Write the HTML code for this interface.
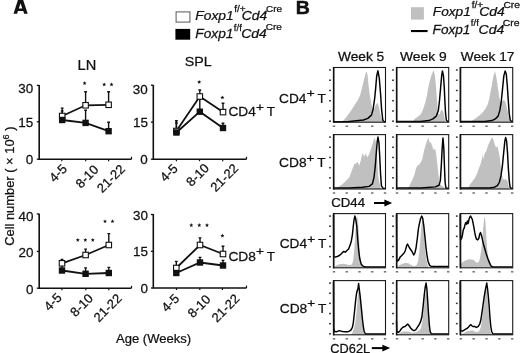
<!DOCTYPE html>
<html><head><meta charset="utf-8"><style>
html,body{margin:0;padding:0;background:#fff;overflow:hidden;}
svg{display:block;filter:grayscale(1);}
text{font-family:"Liberation Sans", sans-serif;fill:#111;stroke:#111;stroke-width:0.25px;}
</style></head><body>
<svg width="520" height="353" viewBox="0 0 520 353">
<rect width="520" height="353" fill="#fff"/>
<path d="M13.5 13.7L18.1 -0.5H23L27.7 13.7H24.1L23.3 11.1H17.9L17.1 13.7ZM18.8 8.5H22.3L20.55 3.3Z" fill="#111" fill-rule="evenodd"/>
<text transform="translate(295.68 13.8) scale(1.016 1)" style="font-size:19.2px;font-weight:bold;stroke-width:0.5px">B</text>
<rect x="176.1" y="11.9" width="13.8" height="10.2" fill="#fff" stroke="#666" stroke-width="1.1"/>
<rect x="175.4" y="28.9" width="14.8" height="10.8" fill="#000"/>
<text transform="translate(195.28 20.4) scale(1.035 1)" style="font-size:13.38px;font-style:italic">Foxp1</text>
<text transform="translate(234.15 12.4) scale(1.056 1)" style="font-size:9.52px">f/+</text>
<text transform="translate(241.64 20.4) scale(1.050 1)" style="font-size:13.24px;font-style:italic">Cd4</text>
<text transform="translate(266.11 11.8) scale(1.112 1)" style="font-size:8.89px">Cre</text>
<text transform="translate(195.29 38.3) scale(1.026 1)" style="font-size:13.38px;font-style:italic">Foxp1</text>
<text transform="translate(233.86 30.6) scale(0.985 1)" style="font-size:9.66px">f/f</text>
<text transform="translate(241.13 38.3) scale(1.055 1)" style="font-size:13.24px;font-style:italic">Cd4</text>
<text transform="translate(265.7 30.3) scale(1.092 1)" style="font-size:9.18px">Cre</text>
<rect x="411" y="7.2" width="12.9" height="12.4" fill="#c0c0c0"/>
<rect x="411" y="30" width="16.6" height="2.1" fill="#000"/>
<text transform="translate(432.79 15.9) scale(1.023 1)" style="font-size:13.38px;font-style:italic">Foxp1</text>
<text transform="translate(471.75 7.9) scale(1.175 1)" style="font-size:8.55px">f/+</text>
<text transform="translate(479.13 15.9) scale(1.055 1)" style="font-size:13.24px;font-style:italic">Cd4</text>
<text transform="translate(503.39 7.7) scale(1.175 1)" style="font-size:8.75px">Cre</text>
<text transform="translate(432.59 34) scale(1.018 1)" style="font-size:13.38px;font-style:italic">Foxp1</text>
<text transform="translate(470.86 26.2) scale(1.127 1)" style="font-size:8.55px">f/f</text>
<text transform="translate(478.53 34) scale(1.059 1)" style="font-size:13.24px;font-style:italic">Cd4</text>
<text transform="translate(502.78 26) scale(1.179 1)" style="font-size:8.89px">Cre</text>
<text transform="translate(77.54 70) scale(1.025 1)" style="font-size:14.25px">LN</text>
<text transform="translate(184.76 65.6) scale(1.072 1)" style="font-size:13.33px">SPL</text>
<text transform="translate(115.97 343.4) scale(0.976 1)" style="font-size:13.38px">Age (Weeks)</text>
<text transform="translate(14.3 186.2) rotate(-90) scale(1.0 1)" text-anchor="middle" style="font-size:12.9px">Cell number ( × 10<tspan style="font-size:9px" dy="-5.2">6</tspan><tspan dy="5.2"> )</tspan></text>
<path d="M39.2 84.9V159.2H131.5" fill="none" stroke="#111" stroke-width="1.6"/>
<path d="M36.8 85.4H39.2" stroke="#111" stroke-width="1.3"/>
<text transform="translate(18.26 92.9) scale(1.020 1)" style="font-size:13.2px">30</text>
<path d="M36.8 121.8H39.2" stroke="#111" stroke-width="1.3"/>
<text transform="translate(18.29 126.7) scale(1.020 1)" style="font-size:13.2px">15</text>
<path d="M36.8 159.2H39.2" stroke="#111" stroke-width="1.3"/>
<text transform="translate(25.73 164.4) scale(1.020 1)" style="font-size:13.2px">0</text>
<path d="M61.8 159.2v2" stroke="#111" stroke-width="1.2"/>
<path d="M85.7 159.2v2" stroke="#111" stroke-width="1.2"/>
<path d="M108.6 159.2v2" stroke="#111" stroke-width="1.2"/>
<path d="M131.5 159.2v-2.4" stroke="#111" stroke-width="1.2"/>
<text x="67.8" y="169.6" text-anchor="end" style="font-size:13px" transform="rotate(-45 67.8 169.6)">4-5</text>
<text x="99.3" y="170.5" text-anchor="end" style="font-size:13px" transform="rotate(-45 99.3 170.5)">8-10</text>
<text x="125.8" y="169.9" text-anchor="end" style="font-size:13px" transform="rotate(-45 125.8 169.9)">21-22</text>
<path d="M62.2 120V110.5M60.8 110.9H63.6" stroke="#111" stroke-width="1.4"/>
<path d="M85.6 122.9V109.8M84.2 110.2H87" stroke="#111" stroke-width="1.4"/>
<path d="M108.6 131.2V121.8M107.2 122.2H110" stroke="#111" stroke-width="1.4"/>
<path d="M62.2 116V107.7M60.8 108.1H63.6" stroke="#111" stroke-width="1.4"/>
<path d="M85.6 105.3V91.4M84.2 91.8H87" stroke="#111" stroke-width="1.4"/>
<path d="M108.6 104.8V91.4M107.2 91.8H110" stroke="#111" stroke-width="1.4"/>
<polyline points="62.2,116 85.6,105.3 108.6,104.8" fill="none" stroke="#111" stroke-width="1.8"/>
<polyline points="62.2,120 85.6,122.9 108.6,131.2" fill="none" stroke="#111" stroke-width="1.8"/>
<rect x="59.45" y="113.25" width="5.5" height="5.5" fill="#fff" stroke="#111" stroke-width="1.1"/>
<rect x="82.85" y="102.55" width="5.5" height="5.5" fill="#fff" stroke="#111" stroke-width="1.1"/>
<rect x="105.85" y="102.05" width="5.5" height="5.5" fill="#fff" stroke="#111" stroke-width="1.1"/>
<rect x="59" y="116.8" width="6.4" height="6.4" fill="#111"/>
<rect x="82.4" y="119.7" width="6.4" height="6.4" fill="#111"/>
<rect x="105.4" y="128" width="6.4" height="6.4" fill="#111"/>
<polygon points="84.6,81.1 85.16,82.43 86.6,82.55 85.5,83.49 85.83,84.9 84.6,84.15 83.37,84.9 83.7,83.49 82.6,82.55 84.04,82.43" fill="#111"/>
<polygon points="104.2,82.4 104.76,83.73 106.2,83.85 105.1,84.79 105.43,86.2 104.2,85.45 102.97,86.2 103.3,84.79 102.2,83.85 103.64,83.73" fill="#111"/>
<polygon points="111.5,82.4 112.06,83.73 113.5,83.85 112.4,84.79 112.73,86.2 111.5,85.45 110.27,86.2 110.6,84.79 109.5,83.85 110.94,83.73" fill="#111"/>
<path d="M153.3 84.9V159.2H246.5" fill="none" stroke="#111" stroke-width="1.6"/>
<path d="M150.9 85.2H153.3" stroke="#111" stroke-width="1.3"/>
<text transform="translate(132.86 93.7) scale(1.020 1)" style="font-size:13.2px">30</text>
<path d="M150.9 122.1H153.3" stroke="#111" stroke-width="1.3"/>
<text transform="translate(132.89 127.3) scale(1.020 1)" style="font-size:13.2px">15</text>
<path d="M150.9 159.2H153.3" stroke="#111" stroke-width="1.3"/>
<text transform="translate(140.33 164.1) scale(1.020 1)" style="font-size:13.2px">0</text>
<path d="M176.4 159.2v2" stroke="#111" stroke-width="1.2"/>
<path d="M199.5 159.2v2" stroke="#111" stroke-width="1.2"/>
<path d="M222.7 159.2v2" stroke="#111" stroke-width="1.2"/>
<path d="M246.5 159.2v-2.4" stroke="#111" stroke-width="1.2"/>
<text x="178.6" y="169.3" text-anchor="end" style="font-size:13px" transform="rotate(-45 178.6 169.3)">4-5</text>
<text x="210" y="168.9" text-anchor="end" style="font-size:13px" transform="rotate(-45 210 168.9)">8-10</text>
<text x="239.2" y="169.1" text-anchor="end" style="font-size:13px" transform="rotate(-45 239.2 169.1)">21-22</text>
<path d="M176.4 132.5V122.6M175 123H177.8" stroke="#111" stroke-width="1.4"/>
<path d="M199.8 111.7V99M198.4 99.4H201.2" stroke="#111" stroke-width="1.4"/>
<path d="M223 128V122.8M221.6 123.2H224.4" stroke="#111" stroke-width="1.4"/>
<path d="M176.4 131V120.4M175 120.8H177.8" stroke="#111" stroke-width="1.4"/>
<path d="M199.8 96.5V89.6M198.4 90H201.2" stroke="#111" stroke-width="1.4"/>
<path d="M223 112.1V102.8M221.6 103.2H224.4" stroke="#111" stroke-width="1.4"/>
<polyline points="176.4,131 199.8,96.5 223,112.1" fill="none" stroke="#111" stroke-width="1.8"/>
<polyline points="176.4,132.5 199.8,111.7 223,128" fill="none" stroke="#111" stroke-width="1.8"/>
<rect x="173.65" y="128.25" width="5.5" height="5.5" fill="#fff" stroke="#111" stroke-width="1.1"/>
<rect x="197.05" y="93.75" width="5.5" height="5.5" fill="#fff" stroke="#111" stroke-width="1.1"/>
<rect x="220.25" y="109.35" width="5.5" height="5.5" fill="#fff" stroke="#111" stroke-width="1.1"/>
<rect x="173.2" y="129.3" width="6.4" height="6.4" fill="#111"/>
<rect x="196.6" y="108.5" width="6.4" height="6.4" fill="#111"/>
<rect x="219.8" y="124.8" width="6.4" height="6.4" fill="#111"/>
<polygon points="199.2,80 199.76,81.33 201.2,81.45 200.1,82.39 200.43,83.8 199.2,83.05 197.97,83.8 198.3,82.39 197.2,81.45 198.64,81.33" fill="#111"/>
<polygon points="222.4,95.5 222.96,96.83 224.4,96.95 223.3,97.89 223.63,99.3 222.4,98.55 221.17,99.3 221.5,97.89 220.4,96.95 221.84,96.83" fill="#111"/>
<path d="M39.2 213.7V288.2H131.5" fill="none" stroke="#111" stroke-width="1.6"/>
<path d="M36.8 214H39.2" stroke="#111" stroke-width="1.3"/>
<text transform="translate(18.46 221) scale(1.020 1)" style="font-size:13.2px">40</text>
<path d="M36.8 251.4H39.2" stroke="#111" stroke-width="1.3"/>
<text transform="translate(18.46 256.6) scale(1.020 1)" style="font-size:13.2px">20</text>
<path d="M36.8 288.2H39.2" stroke="#111" stroke-width="1.3"/>
<text transform="translate(25.93 293.6) scale(1.020 1)" style="font-size:13.2px">0</text>
<path d="M61.9 288.2v2" stroke="#111" stroke-width="1.2"/>
<path d="M85.8 288.2v2" stroke="#111" stroke-width="1.2"/>
<path d="M108.8 288.2v2" stroke="#111" stroke-width="1.2"/>
<path d="M131.5 288.2v-2.4" stroke="#111" stroke-width="1.2"/>
<text x="62.5" y="298.4" text-anchor="end" style="font-size:13px" transform="rotate(-45 62.5 298.4)">4-5</text>
<text x="94" y="299.2" text-anchor="end" style="font-size:13px" transform="rotate(-45 94 299.2)">8-10</text>
<text x="122.5" y="299.2" text-anchor="end" style="font-size:13px" transform="rotate(-45 122.5 299.2)">21-22</text>
<path d="M62 270.5V265M60.6 265.4H63.4" stroke="#111" stroke-width="1.4"/>
<path d="M85.6 273.8V267.5M84.2 267.9H87" stroke="#111" stroke-width="1.4"/>
<path d="M108.8 273V267M107.4 267.4H110.2" stroke="#111" stroke-width="1.4"/>
<path d="M62 263.3V259M60.6 259.4H63.4" stroke="#111" stroke-width="1.4"/>
<path d="M85.6 255V248.7M84.2 249.1H87" stroke="#111" stroke-width="1.4"/>
<path d="M108.8 245V233.2M107.4 233.6H110.2" stroke="#111" stroke-width="1.4"/>
<polyline points="62,263.3 85.6,255 108.8,245" fill="none" stroke="#111" stroke-width="1.8"/>
<polyline points="62,270.5 85.6,273.8 108.8,273" fill="none" stroke="#111" stroke-width="1.8"/>
<rect x="59.25" y="260.55" width="5.5" height="5.5" fill="#fff" stroke="#111" stroke-width="1.1"/>
<rect x="82.85" y="252.25" width="5.5" height="5.5" fill="#fff" stroke="#111" stroke-width="1.1"/>
<rect x="106.05" y="242.25" width="5.5" height="5.5" fill="#fff" stroke="#111" stroke-width="1.1"/>
<rect x="58.8" y="267.3" width="6.4" height="6.4" fill="#111"/>
<rect x="82.4" y="270.6" width="6.4" height="6.4" fill="#111"/>
<rect x="105.6" y="269.8" width="6.4" height="6.4" fill="#111"/>
<polygon points="77.8,237.9 78.36,239.23 79.8,239.35 78.7,240.29 79.03,241.7 77.8,240.95 76.57,241.7 76.9,240.29 75.8,239.35 77.24,239.23" fill="#111"/>
<polygon points="85.3,237.9 85.86,239.23 87.3,239.35 86.2,240.29 86.53,241.7 85.3,240.95 84.07,241.7 84.4,240.29 83.3,239.35 84.74,239.23" fill="#111"/>
<polygon points="92.8,237.9 93.36,239.23 94.8,239.35 93.7,240.29 94.03,241.7 92.8,240.95 91.57,241.7 91.9,240.29 90.8,239.35 92.24,239.23" fill="#111"/>
<polygon points="105,219.3 105.56,220.63 107,220.75 105.9,221.69 106.23,223.1 105,222.35 103.77,223.1 104.1,221.69 103,220.75 104.44,220.63" fill="#111"/>
<polygon points="112.5,219.3 113.06,220.63 114.5,220.75 113.4,221.69 113.73,223.1 112.5,222.35 111.27,223.1 111.6,221.69 110.5,220.75 111.94,220.63" fill="#111"/>
<path d="M153.3 214V288H246.5" fill="none" stroke="#111" stroke-width="1.6"/>
<path d="M150.9 214.5H153.3" stroke="#111" stroke-width="1.3"/>
<text transform="translate(132.96 220.4) scale(1.020 1)" style="font-size:13.2px">30</text>
<path d="M150.9 251.3H153.3" stroke="#111" stroke-width="1.3"/>
<text transform="translate(132.99 256.4) scale(1.020 1)" style="font-size:13.2px">15</text>
<path d="M150.9 288H153.3" stroke="#111" stroke-width="1.3"/>
<text transform="translate(140.43 293.4) scale(1.020 1)" style="font-size:13.2px">0</text>
<path d="M176.5 288v2" stroke="#111" stroke-width="1.2"/>
<path d="M199.8 288v2" stroke="#111" stroke-width="1.2"/>
<path d="M222.4 288v2" stroke="#111" stroke-width="1.2"/>
<path d="M246.5 288v-2.4" stroke="#111" stroke-width="1.2"/>
<text x="180" y="299.5" text-anchor="end" style="font-size:13px" transform="rotate(-45 180 299.5)">4-5</text>
<text x="211.5" y="300.2" text-anchor="end" style="font-size:13px" transform="rotate(-45 211.5 300.2)">8-10</text>
<text x="240.4" y="299.5" text-anchor="end" style="font-size:13px" transform="rotate(-45 240.4 299.5)">21-22</text>
<path d="M176.3 273V266M174.9 266.4H177.7" stroke="#111" stroke-width="1.4"/>
<path d="M200 262.5V257M198.6 257.4H201.4" stroke="#111" stroke-width="1.4"/>
<path d="M223 265.5V260M221.6 260.4H224.4" stroke="#111" stroke-width="1.4"/>
<path d="M176.3 268V261M174.9 261.4H177.7" stroke="#111" stroke-width="1.4"/>
<path d="M200 245V237.5M198.6 237.9H201.4" stroke="#111" stroke-width="1.4"/>
<path d="M223 254V245.8M221.6 246.2H224.4" stroke="#111" stroke-width="1.4"/>
<polyline points="176.3,268 200,245 223,254" fill="none" stroke="#111" stroke-width="1.8"/>
<polyline points="176.3,273 200,262.5 223,265.5" fill="none" stroke="#111" stroke-width="1.8"/>
<rect x="173.55" y="265.25" width="5.5" height="5.5" fill="#fff" stroke="#111" stroke-width="1.1"/>
<rect x="197.25" y="242.25" width="5.5" height="5.5" fill="#fff" stroke="#111" stroke-width="1.1"/>
<rect x="220.25" y="251.25" width="5.5" height="5.5" fill="#fff" stroke="#111" stroke-width="1.1"/>
<rect x="173.1" y="269.8" width="6.4" height="6.4" fill="#111"/>
<rect x="196.8" y="259.3" width="6.4" height="6.4" fill="#111"/>
<rect x="219.8" y="262.3" width="6.4" height="6.4" fill="#111"/>
<polygon points="191.3,223.1 191.86,224.43 193.3,224.55 192.2,225.49 192.53,226.9 191.3,226.15 190.07,226.9 190.4,225.49 189.3,224.55 190.74,224.43" fill="#111"/>
<polygon points="199.3,223.1 199.86,224.43 201.3,224.55 200.2,225.49 200.53,226.9 199.3,226.15 198.07,226.9 198.4,225.49 197.3,224.55 198.74,224.43" fill="#111"/>
<polygon points="207,223.1 207.56,224.43 209,224.55 207.9,225.49 208.23,226.9 207,226.15 205.77,226.9 206.1,225.49 205,224.55 206.44,224.43" fill="#111"/>
<polygon points="222.4,233.6 222.96,234.93 224.4,235.05 223.3,235.99 223.63,237.4 222.4,236.65 221.17,237.4 221.5,235.99 220.4,235.05 221.84,234.93" fill="#111"/>
<text transform="translate(228.42 116.3) scale(1.026 1)" style="font-size:13.33px">CD4</text>
<text transform="translate(256.02 111) scale(1.355 1)" style="font-size:10.04px">+</text>
<text transform="translate(266.69 116.3) scale(1.007 1)" style="font-size:13.53px">T</text>
<text transform="translate(228.41 260.6) scale(1.034 1)" style="font-size:13.33px">CD8</text>
<text transform="translate(256.02 255.3) scale(1.355 1)" style="font-size:10.04px">+</text>
<text transform="translate(266.69 260.6) scale(1.007 1)" style="font-size:13.53px">T</text>
<text transform="translate(338.03 60.7) scale(1.093 1)" style="font-size:12.55px">Week 5</text>
<text transform="translate(400.03 60.7) scale(1.104 1)" style="font-size:12.55px">Week 9</text>
<text transform="translate(460.83 60.6) scale(1.100 1)" style="font-size:12.41px">Week 17</text>
<text transform="translate(279.12 102.6) scale(1.026 1)" style="font-size:13.33px">CD4</text>
<text transform="translate(306.72 97.3) scale(1.355 1)" style="font-size:10.04px">+</text>
<text transform="translate(317.39 102.6) scale(1.007 1)" style="font-size:13.53px">T</text>
<text transform="translate(279.01 167.2) scale(1.034 1)" style="font-size:13.33px">CD8</text>
<text transform="translate(306.62 161.9) scale(1.355 1)" style="font-size:10.04px">+</text>
<text transform="translate(317.29 167.2) scale(1.007 1)" style="font-size:13.53px">T</text>
<text transform="translate(279.72 248.3) scale(1.026 1)" style="font-size:13.33px">CD4</text>
<text transform="translate(307.32 243) scale(1.355 1)" style="font-size:10.04px">+</text>
<text transform="translate(317.99 248.3) scale(1.007 1)" style="font-size:13.53px">T</text>
<text transform="translate(279.71 312.6) scale(1.034 1)" style="font-size:13.33px">CD8</text>
<text transform="translate(307.32 307.3) scale(1.355 1)" style="font-size:10.04px">+</text>
<text transform="translate(317.99 312.6) scale(1.007 1)" style="font-size:13.53px">T</text>
<text transform="translate(331.24 207.4) scale(1.049 1)" style="font-size:12.62px">CD44</text>
<text transform="translate(330.36 352.6) scale(0.979 1)" style="font-size:13.05px">CD62L</text>
<path d="M374 203H386" stroke="#000" stroke-width="2"/><path d="M384.4 199.6L392.2 203L384.4 206.4Z" fill="#000"/>
<path d="M371.8 348.1H384" stroke="#000" stroke-width="2"/><path d="M382.4 344.7L390.2 348.1L382.4 351.5Z" fill="#000"/>
<path d="M341.2 122.2 L344.42 119.47 L347.75 115.31 L351.08 110.38 L354.3 105.46 L357.63 100.54 L360.02 95.62 L361.74 89 L363.35 82.43 L365.01 75.87 L366.26 71.33 L367.46 74.23 L368.29 82.43 L369.38 92.28 L370.73 100.54 L371.98 107.1 L373.18 110.38 L374.84 107.1 L376.45 103.82 L377.7 103 L378.95 107.1 L380.56 115.31 L382.22 120.23 L382.9 122.2 L382.9 122.2 L341.2 122.2Z" fill="#c0c0c0"/>
<path d="M333.5 121.76 L347.54 121.76 L356.38 120.78 L363.45 120.01 L367.82 118.37 L371.46 115.09 L373.02 109.62 L374.58 99.23 L375.62 88.83 L376.66 76.25 L377.91 70.78 L379.26 77.89 L380.56 93.76 L381.6 109.62 L382.9 120.56 L384.46 121.76 L385.5 121.76" fill="none" stroke="#000" stroke-width="1.45" stroke-linejoin="round"/>
<path d="M412.42 122.2 L414.04 119.47 L417.38 116.95 L420.62 114.49 L422.29 111.26 L423.9 107.1 L425.58 101.36 L426.88 95.62 L428.03 89 L429.33 82.43 L430.8 77.51 L432.1 73.41 L433.77 70.13 L434.92 75.87 L435.91 85.72 L436.69 95.62 L437.37 105.46 L438.36 113.67 L439.51 114.49 L440.66 111.26 L441.97 109.56 L443.27 112.03 L444.42 116.95 L445.57 122.2 L445.57 122.2 L412.42 122.2Z" fill="#c0c0c0"/>
<path d="M396.5 121.54 L420.62 121.54 L428.86 120.56 L432.94 118.92 L436.22 116.13 L438.36 110.38 L439.51 100.54 L440.66 87.36 L441.65 75.87 L442.44 70.95 L443.48 75.87 L444.26 87.36 L444.94 102.18 L445.57 113.67 L446.4 120.23 L447.66 121.54 L448.7 121.54" fill="none" stroke="#000" stroke-width="1.45" stroke-linejoin="round"/>
<path d="M469.73 122.2 L473.14 119.9 L476.39 117.77 L479.69 115.31 L482.99 112.03 L485.45 108.74 L487.55 104.64 L489.22 98.9 L490.38 92.28 L491.74 85.72 L492.79 79.15 L493.99 74.23 L494.94 70.95 L496.09 75.87 L497.4 84.07 L498.55 92.28 L499.7 98.9 L501.01 103 L502.38 101.36 L503.48 99.72 L505.15 101.36 L506.78 107.1 L508.4 115.31 L509.77 121.05 L510.6 122.2 L510.6 122.2 L469.73 122.2Z" fill="#c0c0c0"/>
<path d="M460.3 121.54 L484.61 121.54 L492 120.56 L495.3 118.92 L498.08 116.13 L499.86 110.38 L501.38 100.54 L502.69 87.36 L503.84 75.87 L505.15 70.95 L506.31 74.23 L507.3 85.72 L508.25 100.54 L509.24 113.67 L510.24 120.23 L511.65 121.54 L512.7 121.54" fill="none" stroke="#000" stroke-width="1.45" stroke-linejoin="round"/>
<path d="M334.64 189 L337.92 187.2 L341.2 185.25 L344.47 182.25 L346.97 179.81 L349.41 177.3 L351.08 172.41 L352.69 168.27 L354.3 164.19 L355.96 163.38 L357.63 161.69 L359.24 165.83 L360.9 160.06 L362.52 152.66 L364.18 156.8 L365.79 153.48 L367.46 157.61 L369.12 154.35 L370.73 149.4 L372.4 144.45 L373.7 139.55 L374.84 137.86 L375.98 142.81 L376.97 154.35 L377.65 165.83 L378.27 175.67 L379.26 182.25 L380.56 187.2 L381.39 189 L381.39 189 L334.64 189Z" fill="#c0c0c0"/>
<path d="M333.5 188.02 L349.41 188.02 L362.52 187.2 L369.12 186.39 L372.4 183.89 L374.01 177.3 L375.31 165.83 L376.3 152.66 L377.28 141.18 L377.96 137.05 L378.95 142.81 L379.78 157.61 L380.56 174.04 L381.39 185.57 L383.06 188.35 L385.5 188.35" fill="none" stroke="#000" stroke-width="1.45" stroke-linejoin="round"/>
<path d="M407.46 189 L409.13 186.39 L410.8 183.07 L412.42 179.81 L414.4 174.86 L416.02 168.27 L417.33 165.83 L419 165.01 L420.62 162.56 L422.29 159.24 L423.9 151.03 L425.58 145.26 L427.19 140.37 L428.34 137.86 L429.65 142.81 L430.8 142 L432.1 146.08 L433.77 150.21 L435.08 148.58 L436.22 154.35 L437.37 164.19 L438.36 174.04 L439.51 182.25 L441.13 185.57 L443.64 186.39 L445.25 189 L445.25 189 L407.46 189Z" fill="#c0c0c0"/>
<path d="M396.5 188.02 L420.62 188.02 L435.39 186.88 L438.99 185.25 L440.35 180.62 L441.29 165.83 L442.12 149.4 L442.96 137.86 L443.79 147.76 L444.42 165.83 L445.1 182.25 L445.93 188.02 L448.7 188.35" fill="none" stroke="#000" stroke-width="1.45" stroke-linejoin="round"/>
<path d="M468.16 189 L469.84 184.7 L472.3 181.44 L474.76 178.17 L477.23 173.22 L478.85 168.27 L480.53 164.19 L481.68 160.06 L482.62 154.35 L483.46 159.24 L484.61 153.48 L486.24 151.03 L487.91 146.08 L489.54 142 L491.16 138.73 L492.47 137.86 L493.63 140.37 L494.78 144.45 L496.09 147.76 L497.4 146.08 L498.55 151.03 L499.7 157.61 L500.7 165.83 L501.85 174.04 L503.01 178.99 L504.63 179.81 L506.31 178.99 L507.93 182.25 L509.24 189 L509.24 189 L468.16 189Z" fill="#c0c0c0"/>
<path d="M460.3 188.02 L489.54 188.02 L494.46 187.2 L497.4 185.57 L499.39 182.25 L501.01 175.67 L502.38 165.83 L503.69 152.66 L504.84 141.18 L505.63 137.54 L506.62 141.18 L507.62 154.35 L508.4 169.09 L509.24 180.62 L510.08 187.2 L511.23 188.35 L512.7 188.35" fill="none" stroke="#000" stroke-width="1.45" stroke-linejoin="round"/>
<path d="M333.5 267.8 L334.64 266.72 L336.31 265.36 L339.58 264.17 L342.86 263.68 L346.14 264.17 L349.41 265.36 L351.86 264.49 L353 261.24 L353.99 253 L354.82 241.51 L355.65 228.4 L356.48 220.16 L357.26 216.04 L358.1 221.84 L358.93 236.58 L359.76 253 L360.9 262.87 L362.2 266.99 L362.88 267.8 L362.88 267.8 L333.5 267.8Z" fill="#c0c0c0"/>
<path d="M333.5 214.68 L333.71 256.31 L335.48 257.12 L337.92 256.31 L340.36 254.68 L342.03 253 L343.69 251.38 L345.3 252.19 L346.97 250.56 L348.58 248.94 L350.24 244.82 L351.39 240.7 L352.38 234.95 L353.21 226.72 L353.99 220.16 L354.82 216.04 L355.65 218.53 L356.8 226.72 L357.63 238.26 L358.62 249.75 L359.76 258.75 L361.22 264.17 L363.35 266.5 L365.79 266.99 L385.5 266.99" fill="none" stroke="#000" stroke-width="1.45" stroke-linejoin="round"/>
<path d="M396.5 267.8 L399.27 265.36 L402.56 263.68 L405.84 262.87 L408.3 263.19 L410.8 264.82 L414.04 266.17 L416.54 265.36 L418.16 261.24 L419.31 251.38 L420.3 239.89 L421.14 228.4 L421.92 221.84 L422.6 219.35 L423.44 225.09 L424.22 236.58 L425.21 249.75 L426.36 259.56 L427.51 264.49 L428.81 267.47 L429.39 267.8 L429.39 267.8 L396.5 267.8Z" fill="#c0c0c0"/>
<path d="M396.5 214.68 L396.71 261.24 L398.48 260.43 L400.1 257.12 L401.77 255.5 L403.39 253.82 L405.06 251.38 L406.68 245.63 L407.51 244.01 L409.13 247.26 L410.8 249.75 L412.42 252.19 L413.73 255.01 L414.87 253 L416.02 248.07 L417.33 238.26 L418.48 228.4 L419.47 223.46 L420.62 218.53 L421.76 216.04 L422.76 218.53 L423.9 226.72 L424.9 236.58 L425.89 246.45 L426.88 254.68 L428.03 261.24 L429.65 265.36 L431.32 266.5 L448.7 266.5" fill="none" stroke="#000" stroke-width="1.45" stroke-linejoin="round"/>
<path d="M460.3 267.8 L460.82 264.55 L461.61 262.87 L464.07 261.24 L466.54 259.94 L469 259.24 L471.46 259.56 L473.92 259.94 L475.6 262.05 L477.23 262.87 L478.85 262.05 L480 257.94 L481.31 249.75 L482.47 238.26 L483.3 226.72 L484.14 218.53 L484.61 216.58 L485.45 221.84 L486.24 234.95 L487.08 248.07 L487.91 256.31 L489.07 261.24 L490.01 264.49 L491.16 267.8 L491.16 267.8 L460.3 267.8Z" fill="#c0c0c0"/>
<path d="M460.3 214.68 L460.51 239.89 L461.61 238.26 L462.45 234.95 L463.23 230.02 L464.07 228.4 L464.91 225.09 L465.7 222.65 L466.54 224.28 L467.37 220.97 L468.16 223.46 L469 219.35 L469.84 216.91 L470.62 216.04 L471.46 217.72 L472.3 219.35 L473.14 223.46 L473.92 227.58 L474.76 232.46 L475.6 236.58 L476.39 239.07 L477.7 239.89 L478.85 238.26 L479.69 234.14 L480.53 232.46 L481.31 234.95 L482.15 238.26 L482.99 242.33 L484.61 248.07 L486.24 253.82 L487.91 258.75 L489.54 262.87 L491.16 266.17 L492.84 266.99 L512.7 266.99" fill="none" stroke="#000" stroke-width="1.45" stroke-linejoin="round"/>
<path d="M351.08 334.8 L352.69 332.36 L354.14 328.24 L355.65 320 L356.8 308.51 L357.63 298.65 L358.41 290.46 L359.24 288.84 L360.07 293.72 L360.9 303.58 L361.89 316.75 L362.88 326.56 L363.87 333.17 L364.49 334.8 L364.49 334.8 L351.08 334.8Z" fill="#c0c0c0"/>
<path d="M333.5 281.68 L333.71 328.24 L334.64 331.49 L336.31 331.82 L337.92 331.17 L339.58 330.68 L341.2 331.17 L342.86 331.49 L345.3 331.82 L347.75 331.82 L349.41 331.17 L351.08 329.87 L352.38 327.43 L353.21 323.31 L353.99 316.75 L354.82 308.51 L355.65 300.33 L356.48 293.72 L357.26 290.46 L357.94 288.84 L358.62 283.58 L359.24 288.84 L360.07 295.4 L360.9 303.58 L361.74 311.82 L362.52 320 L363.35 326.56 L364.18 331.49 L365.48 333.99 L385.5 333.99" fill="none" stroke="#000" stroke-width="1.45" stroke-linejoin="round"/>
<path d="M396.81 334.8 L399.27 333.17 L402.56 331.82 L405.84 331.17 L409.13 331.82 L412.42 332.85 L415.71 332.36 L419 330.68 L420.98 328.24 L422.29 321.68 L423.44 311.82 L424.43 301.95 L425.21 295.4 L426.05 292.09 L426.88 295.4 L427.66 305.26 L428.5 318.38 L429.33 328.24 L430.17 333.99 L430.8 334.8 L430.8 334.8 L396.81 334.8Z" fill="#c0c0c0"/>
<path d="M396.5 320.71 L396.81 331.49 L398.48 332.36 L400.1 330.68 L401.77 328.24 L403.39 326.94 L405.06 326.56 L406.68 324.94 L407.83 324.12 L409.13 325.75 L410.8 328.24 L412.42 329.87 L414.04 330.68 L415.71 329.87 L417.33 327.43 L419 324.94 L420.62 321.68 L421.92 316.75 L423.07 306.89 L424.22 295.4 L425.21 287.16 L426.05 283.04 L426.88 288.84 L427.66 300.33 L428.5 313.45 L429.33 324.94 L430.17 331.49 L431.32 333.99 L448.7 333.99" fill="none" stroke="#000" stroke-width="1.45" stroke-linejoin="round"/>
<path d="M460.77 334.8 L463.23 333.17 L466.54 331.49 L469.84 330.68 L472.3 330.19 L474.76 331.49 L477.23 332.36 L479.37 330.68 L481 326.56 L482.15 318.38 L483.3 308.51 L484.3 298.65 L485.09 292.09 L485.92 288.84 L486.76 290.46 L487.55 297.02 L488.39 306.89 L489.22 318.38 L490.01 328.24 L490.85 333.17 L491.53 334.8 L491.53 334.8 L460.77 334.8Z" fill="#c0c0c0"/>
<path d="M460.3 281.68 L460.51 330.68 L462.45 331.17 L464.07 330.19 L465.7 329.05 L467.37 328.24 L469 326.56 L470.62 324.61 L471.78 325.75 L473.14 326.56 L474.76 326.56 L476.39 327.43 L478.06 326.56 L479.69 324.12 L480.84 320 L481.84 313.45 L482.99 305.26 L484.14 297.02 L485.09 291.28 L485.92 287.16 L486.76 283.04 L487.55 288.84 L488.39 297.02 L489.22 306.89 L490.01 318.38 L490.85 326.56 L491.69 331.49 L492.84 333.99 L512.7 333.99" fill="none" stroke="#000" stroke-width="1.45" stroke-linejoin="round"/>
<rect x="333.5" y="67.5" width="52" height="54.7" fill="none" stroke="#1a1a1a" stroke-width="1.1"/>
<path d="M333.7 67V122.7" stroke="#111" stroke-width="1.6"/>
<rect x="329.1" y="69.25" width="1.8" height="1.5" fill="#333"/>
<rect x="329.1" y="79.49" width="1.8" height="1.5" fill="#333"/>
<rect x="329.1" y="89.73" width="1.8" height="1.5" fill="#333"/>
<rect x="329.1" y="99.97" width="1.8" height="1.5" fill="#333"/>
<rect x="329.1" y="110.21" width="1.8" height="1.5" fill="#333"/>
<rect x="329.1" y="120.45" width="1.8" height="1.5" fill="#333"/>
<rect x="332.8" y="125.5" width="2.4" height="1.4" fill="#666"/>
<rect x="345.55" y="125.5" width="2.4" height="1.4" fill="#666"/>
<rect x="358.3" y="125.5" width="2.4" height="1.4" fill="#666"/>
<rect x="371.05" y="125.5" width="2.4" height="1.4" fill="#666"/>
<rect x="383.8" y="125.5" width="2.4" height="1.4" fill="#666"/>
<rect x="396.5" y="67.5" width="52.2" height="54.7" fill="none" stroke="#1a1a1a" stroke-width="1.1"/>
<path d="M396.7 67V122.7" stroke="#111" stroke-width="1.6"/>
<rect x="392.1" y="69.25" width="1.8" height="1.5" fill="#333"/>
<rect x="392.1" y="79.49" width="1.8" height="1.5" fill="#333"/>
<rect x="392.1" y="89.73" width="1.8" height="1.5" fill="#333"/>
<rect x="392.1" y="99.97" width="1.8" height="1.5" fill="#333"/>
<rect x="392.1" y="110.21" width="1.8" height="1.5" fill="#333"/>
<rect x="392.1" y="120.45" width="1.8" height="1.5" fill="#333"/>
<rect x="395.8" y="125.5" width="2.4" height="1.4" fill="#666"/>
<rect x="408.6" y="125.5" width="2.4" height="1.4" fill="#666"/>
<rect x="421.4" y="125.5" width="2.4" height="1.4" fill="#666"/>
<rect x="434.2" y="125.5" width="2.4" height="1.4" fill="#666"/>
<rect x="447" y="125.5" width="2.4" height="1.4" fill="#666"/>
<rect x="460.3" y="67.5" width="52.4" height="54.7" fill="none" stroke="#1a1a1a" stroke-width="1.1"/>
<path d="M460.5 67V122.7" stroke="#111" stroke-width="1.6"/>
<rect x="455.9" y="69.25" width="1.8" height="1.5" fill="#333"/>
<rect x="455.9" y="79.49" width="1.8" height="1.5" fill="#333"/>
<rect x="455.9" y="89.73" width="1.8" height="1.5" fill="#333"/>
<rect x="455.9" y="99.97" width="1.8" height="1.5" fill="#333"/>
<rect x="455.9" y="110.21" width="1.8" height="1.5" fill="#333"/>
<rect x="455.9" y="120.45" width="1.8" height="1.5" fill="#333"/>
<rect x="459.6" y="125.5" width="2.4" height="1.4" fill="#666"/>
<rect x="472.45" y="125.5" width="2.4" height="1.4" fill="#666"/>
<rect x="485.3" y="125.5" width="2.4" height="1.4" fill="#666"/>
<rect x="498.15" y="125.5" width="2.4" height="1.4" fill="#666"/>
<rect x="511" y="125.5" width="2.4" height="1.4" fill="#666"/>
<rect x="333.5" y="134.6" width="52" height="54.4" fill="none" stroke="#1a1a1a" stroke-width="1.1"/>
<path d="M333.7 134.1V189.5" stroke="#111" stroke-width="1.6"/>
<rect x="329.1" y="136.35" width="1.8" height="1.5" fill="#333"/>
<rect x="329.1" y="146.53" width="1.8" height="1.5" fill="#333"/>
<rect x="329.1" y="156.71" width="1.8" height="1.5" fill="#333"/>
<rect x="329.1" y="166.89" width="1.8" height="1.5" fill="#333"/>
<rect x="329.1" y="177.07" width="1.8" height="1.5" fill="#333"/>
<rect x="329.1" y="187.25" width="1.8" height="1.5" fill="#333"/>
<rect x="332.8" y="192.3" width="2.4" height="1.4" fill="#666"/>
<rect x="345.55" y="192.3" width="2.4" height="1.4" fill="#666"/>
<rect x="358.3" y="192.3" width="2.4" height="1.4" fill="#666"/>
<rect x="371.05" y="192.3" width="2.4" height="1.4" fill="#666"/>
<rect x="383.8" y="192.3" width="2.4" height="1.4" fill="#666"/>
<rect x="396.5" y="134.6" width="52.2" height="54.4" fill="none" stroke="#1a1a1a" stroke-width="1.1"/>
<path d="M396.7 134.1V189.5" stroke="#111" stroke-width="1.6"/>
<rect x="392.1" y="136.35" width="1.8" height="1.5" fill="#333"/>
<rect x="392.1" y="146.53" width="1.8" height="1.5" fill="#333"/>
<rect x="392.1" y="156.71" width="1.8" height="1.5" fill="#333"/>
<rect x="392.1" y="166.89" width="1.8" height="1.5" fill="#333"/>
<rect x="392.1" y="177.07" width="1.8" height="1.5" fill="#333"/>
<rect x="392.1" y="187.25" width="1.8" height="1.5" fill="#333"/>
<rect x="395.8" y="192.3" width="2.4" height="1.4" fill="#666"/>
<rect x="408.6" y="192.3" width="2.4" height="1.4" fill="#666"/>
<rect x="421.4" y="192.3" width="2.4" height="1.4" fill="#666"/>
<rect x="434.2" y="192.3" width="2.4" height="1.4" fill="#666"/>
<rect x="447" y="192.3" width="2.4" height="1.4" fill="#666"/>
<rect x="460.3" y="134.6" width="52.4" height="54.4" fill="none" stroke="#1a1a1a" stroke-width="1.1"/>
<path d="M460.5 134.1V189.5" stroke="#111" stroke-width="1.6"/>
<rect x="455.9" y="136.35" width="1.8" height="1.5" fill="#333"/>
<rect x="455.9" y="146.53" width="1.8" height="1.5" fill="#333"/>
<rect x="455.9" y="156.71" width="1.8" height="1.5" fill="#333"/>
<rect x="455.9" y="166.89" width="1.8" height="1.5" fill="#333"/>
<rect x="455.9" y="177.07" width="1.8" height="1.5" fill="#333"/>
<rect x="455.9" y="187.25" width="1.8" height="1.5" fill="#333"/>
<rect x="459.6" y="192.3" width="2.4" height="1.4" fill="#666"/>
<rect x="472.45" y="192.3" width="2.4" height="1.4" fill="#666"/>
<rect x="485.3" y="192.3" width="2.4" height="1.4" fill="#666"/>
<rect x="498.15" y="192.3" width="2.4" height="1.4" fill="#666"/>
<rect x="511" y="192.3" width="2.4" height="1.4" fill="#666"/>
<rect x="333.5" y="213.6" width="52" height="54.2" fill="none" stroke="#1a1a1a" stroke-width="1.1"/>
<path d="M333.7 213.1V268.3" stroke="#111" stroke-width="1.6"/>
<rect x="329.1" y="215.35" width="1.8" height="1.5" fill="#333"/>
<rect x="329.1" y="225.49" width="1.8" height="1.5" fill="#333"/>
<rect x="329.1" y="235.63" width="1.8" height="1.5" fill="#333"/>
<rect x="329.1" y="245.77" width="1.8" height="1.5" fill="#333"/>
<rect x="329.1" y="255.91" width="1.8" height="1.5" fill="#333"/>
<rect x="329.1" y="266.05" width="1.8" height="1.5" fill="#333"/>
<rect x="332.8" y="271.1" width="2.4" height="1.4" fill="#666"/>
<rect x="345.55" y="271.1" width="2.4" height="1.4" fill="#666"/>
<rect x="358.3" y="271.1" width="2.4" height="1.4" fill="#666"/>
<rect x="371.05" y="271.1" width="2.4" height="1.4" fill="#666"/>
<rect x="383.8" y="271.1" width="2.4" height="1.4" fill="#666"/>
<rect x="396.5" y="213.6" width="52.2" height="54.2" fill="none" stroke="#1a1a1a" stroke-width="1.1"/>
<path d="M396.7 213.1V268.3" stroke="#111" stroke-width="1.6"/>
<rect x="392.1" y="215.35" width="1.8" height="1.5" fill="#333"/>
<rect x="392.1" y="225.49" width="1.8" height="1.5" fill="#333"/>
<rect x="392.1" y="235.63" width="1.8" height="1.5" fill="#333"/>
<rect x="392.1" y="245.77" width="1.8" height="1.5" fill="#333"/>
<rect x="392.1" y="255.91" width="1.8" height="1.5" fill="#333"/>
<rect x="392.1" y="266.05" width="1.8" height="1.5" fill="#333"/>
<rect x="395.8" y="271.1" width="2.4" height="1.4" fill="#666"/>
<rect x="408.6" y="271.1" width="2.4" height="1.4" fill="#666"/>
<rect x="421.4" y="271.1" width="2.4" height="1.4" fill="#666"/>
<rect x="434.2" y="271.1" width="2.4" height="1.4" fill="#666"/>
<rect x="447" y="271.1" width="2.4" height="1.4" fill="#666"/>
<rect x="460.3" y="213.6" width="52.4" height="54.2" fill="none" stroke="#1a1a1a" stroke-width="1.1"/>
<path d="M460.5 213.1V268.3" stroke="#111" stroke-width="1.6"/>
<rect x="455.9" y="215.35" width="1.8" height="1.5" fill="#333"/>
<rect x="455.9" y="225.49" width="1.8" height="1.5" fill="#333"/>
<rect x="455.9" y="235.63" width="1.8" height="1.5" fill="#333"/>
<rect x="455.9" y="245.77" width="1.8" height="1.5" fill="#333"/>
<rect x="455.9" y="255.91" width="1.8" height="1.5" fill="#333"/>
<rect x="455.9" y="266.05" width="1.8" height="1.5" fill="#333"/>
<rect x="459.6" y="271.1" width="2.4" height="1.4" fill="#666"/>
<rect x="472.45" y="271.1" width="2.4" height="1.4" fill="#666"/>
<rect x="485.3" y="271.1" width="2.4" height="1.4" fill="#666"/>
<rect x="498.15" y="271.1" width="2.4" height="1.4" fill="#666"/>
<rect x="511" y="271.1" width="2.4" height="1.4" fill="#666"/>
<rect x="333.5" y="280.6" width="52" height="54.2" fill="none" stroke="#1a1a1a" stroke-width="1.1"/>
<path d="M333.7 280.1V335.3" stroke="#111" stroke-width="1.6"/>
<rect x="329.1" y="282.35" width="1.8" height="1.5" fill="#333"/>
<rect x="329.1" y="292.49" width="1.8" height="1.5" fill="#333"/>
<rect x="329.1" y="302.63" width="1.8" height="1.5" fill="#333"/>
<rect x="329.1" y="312.77" width="1.8" height="1.5" fill="#333"/>
<rect x="329.1" y="322.91" width="1.8" height="1.5" fill="#333"/>
<rect x="329.1" y="333.05" width="1.8" height="1.5" fill="#333"/>
<rect x="332.8" y="338.1" width="2.4" height="1.4" fill="#666"/>
<rect x="345.55" y="338.1" width="2.4" height="1.4" fill="#666"/>
<rect x="358.3" y="338.1" width="2.4" height="1.4" fill="#666"/>
<rect x="371.05" y="338.1" width="2.4" height="1.4" fill="#666"/>
<rect x="383.8" y="338.1" width="2.4" height="1.4" fill="#666"/>
<rect x="396.5" y="280.6" width="52.2" height="54.2" fill="none" stroke="#1a1a1a" stroke-width="1.1"/>
<path d="M396.7 280.1V335.3" stroke="#111" stroke-width="1.6"/>
<rect x="392.1" y="282.35" width="1.8" height="1.5" fill="#333"/>
<rect x="392.1" y="292.49" width="1.8" height="1.5" fill="#333"/>
<rect x="392.1" y="302.63" width="1.8" height="1.5" fill="#333"/>
<rect x="392.1" y="312.77" width="1.8" height="1.5" fill="#333"/>
<rect x="392.1" y="322.91" width="1.8" height="1.5" fill="#333"/>
<rect x="392.1" y="333.05" width="1.8" height="1.5" fill="#333"/>
<rect x="395.8" y="338.1" width="2.4" height="1.4" fill="#666"/>
<rect x="408.6" y="338.1" width="2.4" height="1.4" fill="#666"/>
<rect x="421.4" y="338.1" width="2.4" height="1.4" fill="#666"/>
<rect x="434.2" y="338.1" width="2.4" height="1.4" fill="#666"/>
<rect x="447" y="338.1" width="2.4" height="1.4" fill="#666"/>
<rect x="460.3" y="280.6" width="52.4" height="54.2" fill="none" stroke="#1a1a1a" stroke-width="1.1"/>
<path d="M460.5 280.1V335.3" stroke="#111" stroke-width="1.6"/>
<rect x="455.9" y="282.35" width="1.8" height="1.5" fill="#333"/>
<rect x="455.9" y="292.49" width="1.8" height="1.5" fill="#333"/>
<rect x="455.9" y="302.63" width="1.8" height="1.5" fill="#333"/>
<rect x="455.9" y="312.77" width="1.8" height="1.5" fill="#333"/>
<rect x="455.9" y="322.91" width="1.8" height="1.5" fill="#333"/>
<rect x="455.9" y="333.05" width="1.8" height="1.5" fill="#333"/>
<rect x="459.6" y="338.1" width="2.4" height="1.4" fill="#666"/>
<rect x="472.45" y="338.1" width="2.4" height="1.4" fill="#666"/>
<rect x="485.3" y="338.1" width="2.4" height="1.4" fill="#666"/>
<rect x="498.15" y="338.1" width="2.4" height="1.4" fill="#666"/>
<rect x="511" y="338.1" width="2.4" height="1.4" fill="#666"/>
</svg>
</body></html>
